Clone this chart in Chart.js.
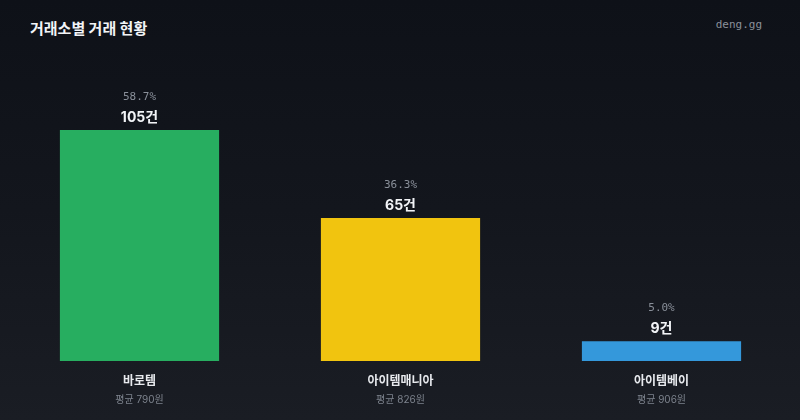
<!DOCTYPE html>
<html><head><meta charset="utf-8">
<script src="https://cdn.jsdelivr.net/npm/chart.js@4/dist/chart.umd.min.js"></script>
<style>
html,body{margin:0;padding:0;}
body{width:800px;height:420px;background:linear-gradient(180deg,#0e1118 0%,#13161d 50%,#1a1d24 100%);overflow:hidden;position:relative;font-family:"Noto Sans CJK KR","Noto Sans",sans-serif;}
#title{position:absolute;left:30px;top:17px;color:#f2f4f7;font-size:15px;font-weight:700;font-family:"Noto Sans CJK KR",sans-serif;}
#wm{position:absolute;right:38px;top:18px;color:#8a909a;font-size:11px;font-family:"DejaVu Sans Mono",monospace;}
#wrap{position:absolute;left:0;top:0;width:800px;height:420px;}
</style></head>
<body>
<div id="title">거래소별 거래 현황</div>
<div id="wm">deng.gg</div>
<div id="wrap"><canvas id="c" width="800" height="420"></canvas></div>
<script>
const categories = ["바로템", "아이템매니아", "아이템베이"];
const counts = [105, 65, 9];
const shares = ["58.7%", "36.3%", "5.0%"];
const averages = ["평균 790원", "평균 826원", "평균 906원"];
const colors = ["#27ae60", "#f1c40f", "#3498db"];

const labelPlugin = {
  id: 'labels',
  afterDatasetsDraw(chart) {
    const ctx = chart.ctx;
    const meta = chart.getDatasetMeta(0);
    const xs = chart.scales.x;
    ctx.save();
    ctx.textAlign = 'center';
    ctx.textBaseline = 'middle';
    meta.data.forEach((bar, i) => {
      const x = bar.x;
      ctx.fillStyle = '#f2f4f7';
      ctx.font = '700 14px Inter, "Noto Sans CJK KR", sans-serif';
      ctx.fillText(counts[i] + '건', x, bar.y - 12);
      ctx.fillStyle = '#8a909a';
      ctx.font = '11px "DejaVu Sans Mono", monospace';
      ctx.fillText(shares[i], x, bar.y - 33);
      const cx = xs.getPixelForValue(i);
      ctx.fillStyle = '#e8eaee';
      ctx.font = '700 12px "Noto Sans CJK KR", sans-serif';
      ctx.fillText(categories[i], cx, 380);
      ctx.fillStyle = '#7d838d';
      ctx.font = '10px Inter, "Noto Sans CJK KR", sans-serif';
      ctx.fillText(averages[i], cx, 400);
    });
    ctx.restore();
  }
};

new Chart(document.getElementById('c'), {
  type: 'bar',
  data: {
    labels: categories,
    datasets: [{
      data: counts,
      backgroundColor: colors,
      borderWidth: 0,
      categoryPercentage: 1.0,
      barPercentage: 0.61
    }]
  },
  options: {
    responsive: false,
    animation: false,
    devicePixelRatio: 1,
    layout: { padding: { left: 9, right: 8, top: 75, bottom: 59 } },
    plugins: { legend: { display: false }, tooltip: { enabled: false } },
    scales: {
      x: { display: false, grid: { display: false } },
      y: { display: false, min: 0, max: 130, grid: { display: false } }
    }
  },
  plugins: [labelPlugin]
});
</script>
</body></html>
